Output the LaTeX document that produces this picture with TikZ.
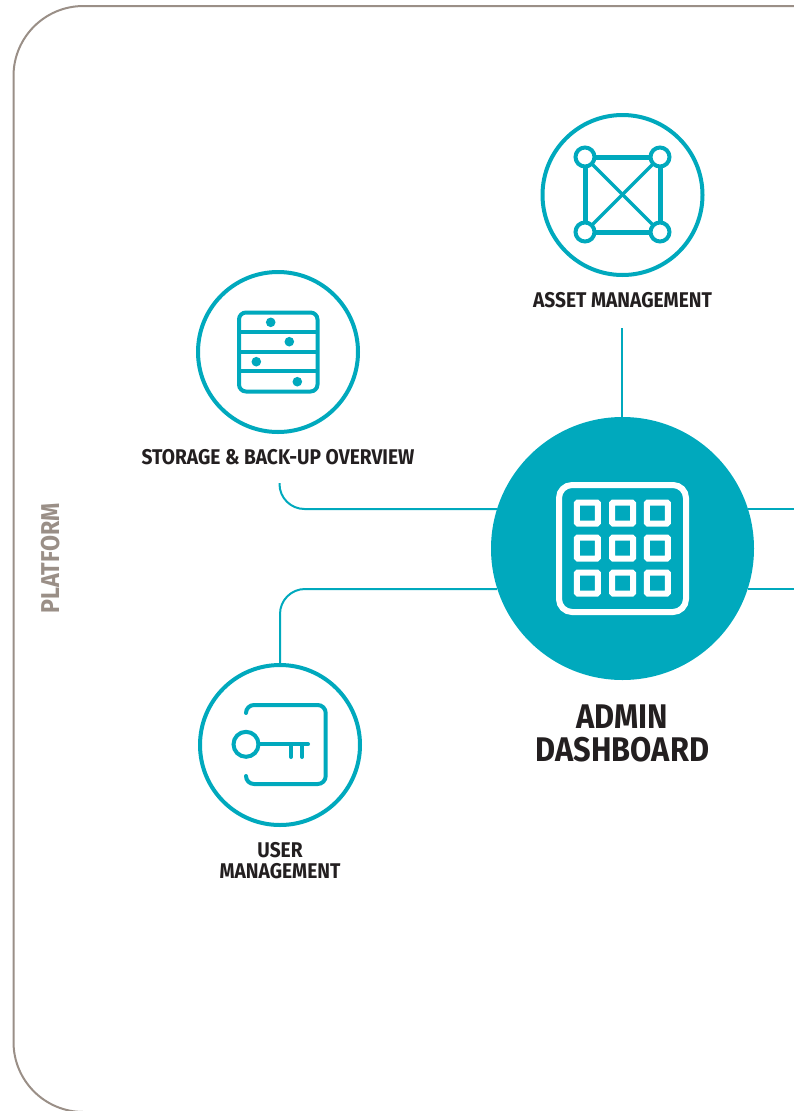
\documentclass[tikz,border=0pt]{standalone}
\usepackage{fontspec}
\setmainfont{Fira Sans}[FakeStretch=0.9]
\usetikzlibrary{calc}

\definecolor{teal}{HTML}{00A9BD}
\definecolor{stone}{HTML}{9A8F87}
\definecolor{ink}{HTML}{231F20}

\tikzset{
  ring/.style={circle, draw=teal, line width=4pt, fill=white, minimum size=160pt, inner sep=0pt, outer sep=2pt},
  hub/.style={circle, fill=teal, minimum size=263pt, inner sep=0pt, outer sep=0pt},
  link/.style={draw=teal, line width=2pt},
  icon/.style={draw=teal, line width=4pt},
  caption/.style={text=ink, align=center, inner sep=0pt, font=\bfseries\fontsize{21.3}{21}\selectfont},
  title/.style={text=ink, align=center, inner sep=0pt, font=\bfseries\fontsize{34.2}{33}\selectfont},
}

\begin{document}
\begin{tikzpicture}[x=1pt, y=-1pt]

      \useasboundingbox (0,0) rectangle (794,1111);

      % platform outline
      \draw[stone, line width=2pt, rounded corners=70pt] (794,6) -- (13.5,6) -- (13.5,1112) -- (794,1112);
      \node[text=stone, rotate=90, inner sep=0pt, font=\bfseries\fontsize{25.8}{25.8}\selectfont] (platform) at (51,558.5) {PLATFORM};

      \node[hub] (admin) at (622.5,548.5) {};
      \node[ring] (assetring) at (622.5,195) {};
      \node[ring] (storagering) at (278,352) {};
      \node[ring] (userring) at (280,745) {};

      \node[caption] (assetlabel) at (622.5,300) {ASSET MANAGEMENT};
      \node[caption] (storagelabel) at (278,457) {STORAGE \& BACK-UP OVERVIEW};
      \node[caption] (userlabel) at (280,861) {USER\\MANAGEMENT};
      \node[title] (adminlabel) at (622.5,733) {ADMIN\\DASHBOARD};

      \coordinate (assettail) at (622,328);
      \coordinate (storagetail) at (279.5,483);
      \coordinate (rightupper) at (794,509);
      \coordinate (rightlower) at (794,589);

      % connectors
      \draw[link] (assettail) -- (assettail |- admin.north);
      \draw[link, rounded corners=25pt] (storagetail) |- (admin.162.6 |- rightupper);
      \draw[link, rounded corners=25pt] (userring.north) |- (admin.197.4 |- rightlower);
      \draw[link] (admin.17.4 |- rightupper) -- (rightupper);
      \draw[link] (admin.-17.4 |- rightlower) -- (rightlower);

      % asset icon
      \draw[icon, line width=5pt] (585,157) rectangle (660,232);
      \draw[icon, line width=3.5pt] (585,157) -- (660,232);
      \draw[icon, line width=3.5pt] (660,157) -- (585,232);
      \foreach \p in {585,660}{
        \foreach \q in {157,232}{
          \draw[icon, fill=white] (\p,\q) circle (9.5pt);
        }
      }

      % storage icon
      \draw[icon, rounded corners=7pt] (239,312.5) rectangle (317.5,391.5);
      \foreach \q in {332,352,371}{
        \draw[icon] (239,\q) -- (317.5,\q);
      }
      \foreach \p/\q in {270.7/322.3, 289.3/341.7, 256.3/361.7, 297.3/381.7}{
        \fill[teal] (\p,\q) circle (4.8pt);
      }

      % user icon
      \draw[icon, line width=4pt, line cap=round, rounded corners=8pt] (246,713) -- (246,705) -- (325.7,705) -- (325.7,784) -- (246,784) -- (246,776);
      \draw[icon, line width=4pt] (246,744.3) circle (12.5pt);
      \draw[icon, line width=4pt, line cap=round] (258.5,744.3) -- (308,744.3);
      \foreach \p in {291,302}{
        \draw[icon, line width=4pt, line cap=round] (\p,744.3) -- (\p,757);
      }

      % admin icon
      \draw[white, line width=6pt, rounded corners=13pt] (559,485) rectangle (686,612);
      \foreach \p in {587.3,622.5,657.3}{
        \foreach \q in {513,548,583}{
          \draw[white, line width=6pt, rounded corners=1pt] (\p-10.5,\q-10.5) rectangle (\p+10.5,\q+10.5);
        }
      }

\end{tikzpicture}
\end{document}
